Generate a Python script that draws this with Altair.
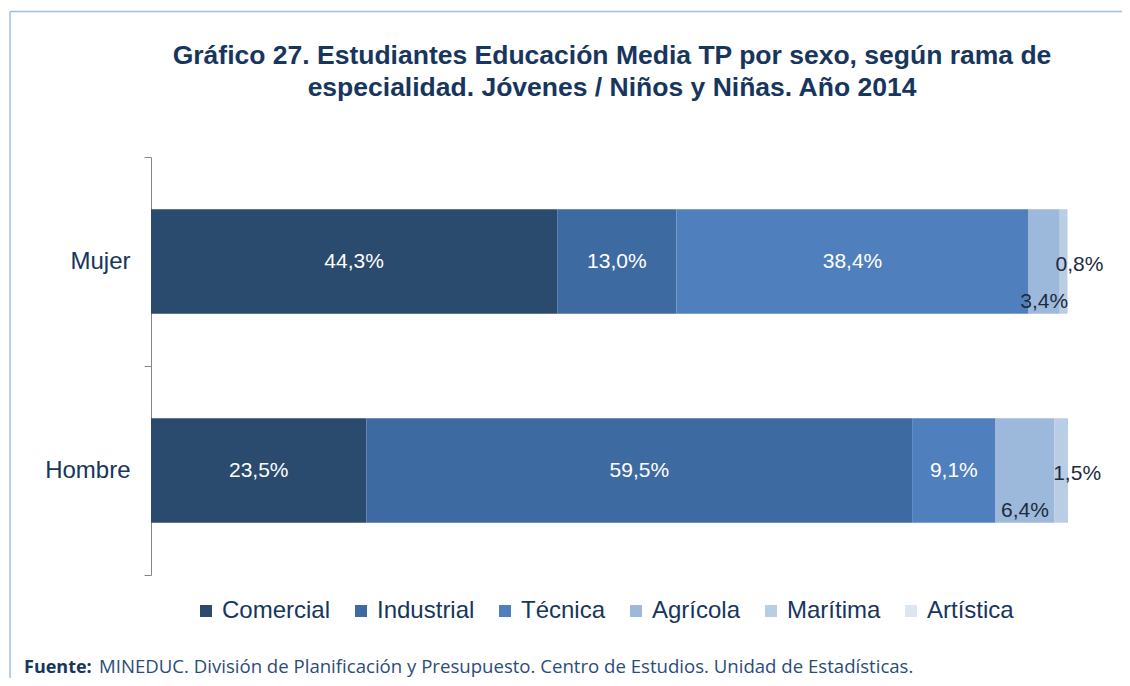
import altair as alt
import pandas as pd

# ---- data ----
sexos = ["Mujer", "Hombre"]
ramas = ["Comercial", "Industrial", "Técnica", "Agrícola", "Marítima", "Artística"]
mujer = [44.3, 13.0, 38.4, 3.4, 0.8, 0.1]
hombre = [23.5, 59.5, 9.1, 6.4, 1.5, 0.0]
colores = ["#2a4a6e", "#3e6aa2", "#4f80bd", "#9cb8da", "#b9cde5", "#dce6f2"]

titulo = [
    "Gráfico 27. Estudiantes Educación Media TP por sexo, según rama de",
    "especialidad. Jóvenes / Niños y Niñas. Año 2014",
]
fuente_bold = "Fuente:"
fuente_txt = "MINEDUC. División de Planificación y Presupuesto. Centro de Estudios. Unidad de Estadísticas."

rows = []
for s, vals in zip(sexos, [mujer, hombre]):
    for i, (r, v) in enumerate(zip(ramas, vals)):
        rows.append({"sexo": s, "rama": r, "valor": v, "orden": i})
df = pd.DataFrame(rows)

FONT = "Liberation Sans"
NAVY = "#17365d"
LBL = "#1c2b40"

y_enc = alt.Y(
    "sexo:N",
    sort=sexos,
    scale=alt.Scale(paddingInner=0, paddingOuter=0),
    axis=alt.Axis(
        title=None,
        tickBand="extent",
        tickSize=7,
        tickColor="#868686",
        domainColor="#868686",
        labelFontSize=24,
        labelFont=FONT,
        labelColor=NAVY,
        labelPadding=14,
        grid=False,
    ),
)
x_scale = alt.Scale(domain=[0, 100])

base = alt.Chart(df).transform_stack(
    stack="valor", groupby=["sexo"], as_=["v0", "v1"], sort=[alt.SortField("orden")]
).transform_calculate(
    mid="(datum.v0 + datum.v1) / 2",
    label="replace(format(datum.valor, '.1f'), '.', ',') + '%'",
)

bars = base.mark_bar(height={"band": 0.5}).encode(
    x=alt.X("v0:Q", scale=x_scale, axis=None),
    x2="v1:Q",
    y=y_enc,
    color=alt.Color(
        "rama:N",
        sort=ramas,
        scale=alt.Scale(domain=ramas, range=colores),
        legend=alt.Legend(
            title=None,
            orient="none",
            legendX=43,
            legendY=442,
            direction="horizontal",
            symbolType="square",
            symbolSize=144,
            symbolStrokeWidth=0,
            labelFontSize=24,
            labelFont=FONT,
            labelColor=NAVY,
            labelOffset=4,
            columnPadding=18,
        ),
    ),
)

txt_white = base.transform_filter("datum.orden < 3").mark_text(
    color="white", fontSize=21, font=FONT
).encode(x=alt.X("mid:Q", scale=x_scale, axis=None), y=y_enc, text="label:N")

txt_agr = base.transform_filter("datum.orden == 3").mark_text(
    color=LBL, fontSize=21, font=FONT, dy=40
).encode(x=alt.X("mid:Q", scale=x_scale, axis=None), y=y_enc, text="label:N")

txt_mar = base.transform_filter("datum.orden == 4").mark_text(
    color=LBL, fontSize=21, font=FONT, dx=16, dy=3
).encode(x=alt.X("mid:Q", scale=x_scale, axis=None), y=y_enc, text="label:N")

one = pd.DataFrame({"a": [fuente_bold], "b": [fuente_txt]})

title_mark = alt.Chart(one).mark_text(
    text=titulo, align="center", baseline="alphabetic", fontSize=26.5, font=FONT,
    fontWeight="bold", color=NAVY, lineHeight=32
).encode(x=alt.value(461), y=alt.value(-93))

src1 = alt.Chart(one).mark_text(
    align="left", baseline="alphabetic", fontSize=18, font="Open Sans", fontWeight="bold", color=NAVY
).encode(x=alt.value(-127), y=alt.value(516), text="a:N")
src2 = alt.Chart(one).mark_text(
    align="left", baseline="alphabetic", fontSize=18.6, font="Open Sans", color="#2c4c78"
).encode(x=alt.value(-52), y=alt.value(516), text="b:N")

frame_top = alt.Chart(one).mark_rule(color="#a3bde3", strokeWidth=1.5).encode(
    x=alt.value(-141), x2=alt.value(971), y=alt.value(-145.5)
)
frame_left = alt.Chart(one).mark_rule(color="#a3bde3", strokeWidth=1.5).encode(
    x=alt.value(-141), y=alt.value(-145.5), y2=alt.value(521)
)

chart = alt.layer(
    bars, txt_white, txt_agr, txt_mar, title_mark, src1, src2, frame_top, frame_left
).properties(
    width=917,
    height=418,
    autosize=alt.AutoSizeParams(type="none"),
    padding={"left": 143, "top": 149, "right": 54, "bottom": 103},
).configure_view(stroke=None)

chart.save("out.html", embed_options={"renderer": "svg", "actions": False})
